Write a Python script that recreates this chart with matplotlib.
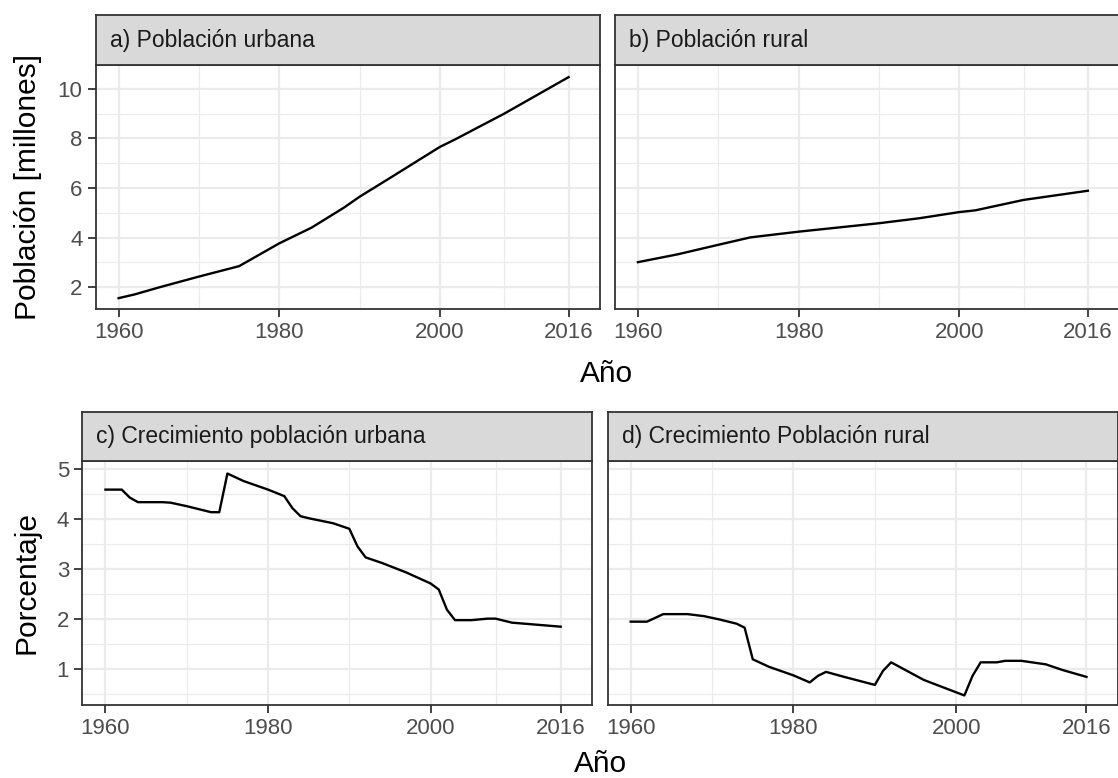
import matplotlib
matplotlib.use("Agg")
import matplotlib.pyplot as plt

plt.rcParams['font.family'] = ['Liberation Sans', 'DejaVu Sans']

# a) urban population [millions]
urb_years = [1960, 1962, 1965, 1970, 1975, 1980, 1984, 1988, 1990, 1994, 2000, 2002, 2008, 2016]
urb_pop = [1.56, 1.71, 1.99, 2.43, 2.85, 3.77, 4.40, 5.20, 5.65, 6.45, 7.66, 7.98, 9.00, 10.47]

# b) rural population [millions]
rur_years = [1960, 1965, 1970, 1974, 1980, 1990, 1995, 2000, 2002, 2008, 2016]
rur_pop = [3.01, 3.33, 3.71, 4.01, 4.24, 4.58, 4.78, 5.03, 5.10, 5.52, 5.89]

# c) urban growth [%]
urbg_years = [1960, 1962, 1963, 1964, 1967, 1968, 1970, 1973, 1974, 1975, 1977, 1980,
              1982, 1983, 1984, 1985, 1988, 1990, 1991, 1992, 1994, 1997, 2000, 2001,
              2002, 2003, 2005, 2007, 2008, 2010, 2013, 2016]
urbg_pct = [4.58, 4.58, 4.42, 4.33, 4.33, 4.32, 4.25, 4.13, 4.13, 4.90, 4.75, 4.58,
            4.45, 4.21, 4.05, 4.01, 3.91, 3.80, 3.45, 3.23, 3.12, 2.93, 2.71, 2.59,
            2.19, 1.98, 1.98, 2.01, 2.01, 1.93, 1.89, 1.85]

# d) rural growth [%]
rurg_years = [1960, 1962, 1964, 1967, 1969, 1971, 1973, 1974, 1975, 1977, 1980, 1982,
              1983, 1984, 1986, 1990, 1991, 1992, 1996, 2001, 2002, 2003, 2005, 2006,
              2008, 2011, 2013, 2016]
rurg_pct = [1.95, 1.95, 2.10, 2.10, 2.06, 1.99, 1.91, 1.83, 1.20, 1.05, 0.88, 0.74,
            0.87, 0.95, 0.86, 0.69, 0.97, 1.14, 0.79, 0.48, 0.87, 1.14, 1.14, 1.17,
            1.17, 1.10, 0.99, 0.85]

x_breaks = [1960, 1980, 2000, 2016]
x_minor = [1970, 1990, 2008]

W, H = 1118, 778
fig = plt.figure(figsize=(W / 100, H / 100), dpi=100)

GRID = '#EBEBEB'
DARK = '#333333'


def px_rect(x0, y0, x1, y1):
    # pixel box (top-left origin) -> figure fraction rect
    return [x0 / W, 1 - y1 / H, (x1 - x0) / W, (y1 - y0) / H]


def panel(box, strip_top, title, years, values, ylim, yticks, yminor, show_y):
    x0, y0, x1, y1 = box
    ax = fig.add_axes(px_rect(x0, y0, x1, y1))
    ax.set_xlim(1957.15, 2019.85)
    ax.set_ylim(*ylim)
    ax.set_xticks(x_breaks)
    ax.set_xticks(x_minor, minor=True)
    ax.set_yticks(yticks)
    ax.set_yticks(yminor, minor=True)
    ax.grid(True, which='major', color=GRID, linewidth=1.6)
    ax.grid(True, which='minor', color=GRID, linewidth=0.8)
    ax.set_axisbelow(True)
    ax.plot(years, values, color='black', linewidth=1.7, solid_joinstyle='round')
    for s in ax.spines.values():
        s.set_color(DARK)
        s.set_linewidth(1.3)
    ax.tick_params(which='major', length=6, width=1.3, color=DARK,
                   labelsize=16, labelcolor='#4D4D4D')
    ax.tick_params(axis='x', pad=3.5)
    ax.tick_params(axis='y', pad=3.5)
    ax.tick_params(which='minor', length=0)
    if not show_y:
        ax.tick_params(axis='y', which='both', left=False, labelleft=False)

    sx = fig.add_axes(px_rect(x0, strip_top, x1, y0))
    sx.set_facecolor('#D9D9D9')
    sx.set_xticks([])
    sx.set_yticks([])
    for s in sx.spines.values():
        s.set_color(DARK)
        s.set_linewidth(1.3)
    sx.text(14 / (x1 - x0), 0.5, title, transform=sx.transAxes, ha='left',
            va='center', fontsize=16.5, color='#1A1A1A')
    return ax


top_ylim = (1.11, 10.96)
bot_ylim = (0.29, 5.15)

panel((95.7, 65, 599.5, 309.3), 15.3, 'a) Población urbana', urb_years, urb_pop,
      top_ylim, [2, 4, 6, 8, 10], [3, 5, 7, 9], True)
panel((615, 65, 1118.8, 309.3), 15.3, 'b) Población rural', rur_years, rur_pop,
      top_ylim, [2, 4, 6, 8, 10], [3, 5, 7, 9], False)
panel((82.3, 461, 592, 705), 412.3, 'c) Crecimiento población urbana', urbg_years, urbg_pct,
      bot_ylim, [1, 2, 3, 4, 5], [0.5, 1.5, 2.5, 3.5, 4.5], True)
panel((607.5, 461, 1117.8, 705), 412.3, 'd) Crecimiento Población rural', rurg_years, rurg_pct,
      bot_ylim, [1, 2, 3, 4, 5], [0.5, 1.5, 2.5, 3.5, 4.5], False)

# axis titles
fig.text(607 / W, 1 - 381.7 / H, 'Año', ha='center', va='baseline', fontsize=21.5)
fig.text(600 / W, 1 - 772 / H, 'Año', ha='center', va='baseline', fontsize=21.5)
fig.text(28.5 / W, 1 - 187 / H, 'Población [millones]', rotation=90,
         ha='center', va='center', fontsize=21.5)
fig.text(26.7 / W, 1 - 583 / H, 'Porcentaje', rotation=90,
         ha='center', va='center', fontsize=21.5)

fig.savefig('out.png', dpi=100, facecolor='white')
